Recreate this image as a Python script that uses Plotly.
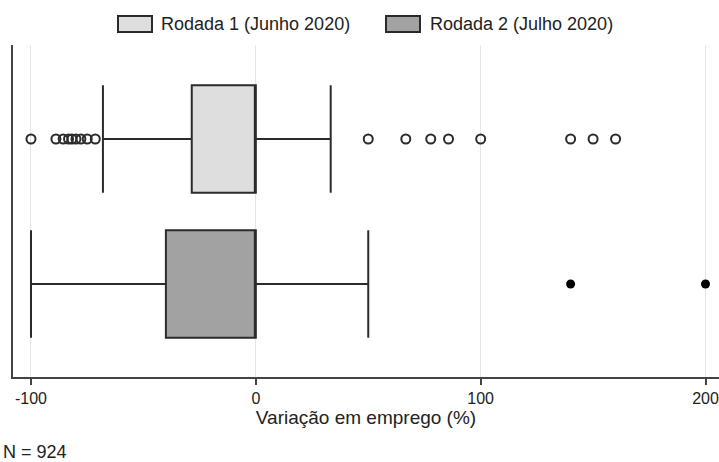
import plotly.graph_objects as go

# Box statistics (Variação em emprego, %)
series_names = ["Rodada 1 (Junho 2020)", "Rodada 2 (Julho 2020)"]
q1_vals = [-28.5, -40.0]
median_vals = [0.0, 0.0]
q3_vals = [0.0, 0.0]
lower_fence = [-68.0, -100.0]
upper_fence = [33.3, 50.0]

# Outliers
r1_outliers = [-100, -88.9, -85.7, -83.3, -81.8, -80.0, -77.8, -75.0, -71.4,
               50, 66.7, 77.8, 85.7, 100, 140, 150, 160]
r2_outliers = [140, 200]

x_ticks = [-100, 0, 100, 200]

y_pos = [1, 0]
fills = ["#dedede", "#a2a2a2"]
line_col = "#2b2b2b"
FONT = "Liberation Sans, Arial, sans-serif"

fig = go.Figure()
for i in range(2):
    fig.add_trace(go.Box(
        name=series_names[i],
        orientation="h",
        y=[y_pos[i]],
        q1=[q1_vals[i]], median=[median_vals[i]], q3=[q3_vals[i]],
        lowerfence=[lower_fence[i]], upperfence=[upper_fence[i]],
        fillcolor=fills[i],
        line=dict(color=line_col, width=2),
        width=0.74, whiskerwidth=1,
        boxpoints=False,
        hoverinfo="skip",
        showlegend=False,
    ))

fig.add_trace(go.Scatter(
    x=r1_outliers, y=[y_pos[0]] * len(r1_outliers), mode="markers",
    marker=dict(symbol="circle-open", size=9, color=line_col, line=dict(width=2, color=line_col)),
    showlegend=False,
))
fig.add_trace(go.Scatter(
    x=r2_outliers, y=[y_pos[1]] * len(r2_outliers), mode="markers",
    marker=dict(symbol="circle", size=9, color="black"),
    showlegend=False,
))

W, H = 719, 462
ml, mr, mt, mb = 13, 0, 45, 85
pw, ph = W - ml - mr, H - mt - mb

def px_x(p):  # pixel x -> paper
    return (p - ml) / pw

def px_y(p):  # pixel y (from top) -> paper
    return (H - mb - p) / ph

# custom legend (wide swatches as in the reference)
shapes = []
annotations = []
legend_swatch_x = [118, 386]
legend_text_x = [159, 428]
for i in range(2):
    shapes.append(dict(type="rect", xref="paper", yref="paper",
                       x0=px_x(legend_swatch_x[i]), x1=px_x(legend_swatch_x[i] + 34),
                       y0=px_y(32), y1=px_y(16),
                       fillcolor=fills[i], line=dict(color=line_col, width=2)))
    annotations.append(dict(text=series_names[i], xref="paper", yref="paper",
                            x=px_x(legend_text_x[i]), y=px_y(24), xanchor="left", yanchor="middle",
                            showarrow=False, font=dict(size=18, family=FONT, color="#222")))

annotations.append(dict(text="N = 924", x=px_x(1), y=px_y(452), xref="paper", yref="paper",
                        xanchor="left", yanchor="middle", showarrow=False,
                        font=dict(size=18, family=FONT, color="#222")))

fig.update_layout(
    width=W, height=H,
    margin=dict(l=ml, r=mr, t=mt, b=mb, autoexpand=False),
    paper_bgcolor="white", plot_bgcolor="white",
    font=dict(family=FONT, size=18, color="#222"),
    showlegend=False,
    xaxis=dict(
        range=[-108, 206], tickvals=x_ticks, ticktext=[str(t) for t in x_ticks],
        showgrid=True, gridcolor="#e6e6e6", gridwidth=1, zeroline=False,
        showline=True, linecolor="#444", linewidth=2,
        ticks="outside", ticklen=6, tickcolor="#444", tickwidth=1.5,
        title=dict(text="Variação em emprego (%)", standoff=2, font=dict(size=19)),
        tickfont=dict(size=16), automargin=False,
    ),
    yaxis=dict(
        range=[-0.641, 1.648], showticklabels=False, showgrid=False, zeroline=False,
        showline=True, linecolor="#444", linewidth=2, ticks="", automargin=False,
    ),
    shapes=shapes,
    annotations=annotations,
)

fig.write_html("out.html", config={"displayModeBar": False},
               post_script="document.body.style.margin='0';document.body.style.padding='0';")
